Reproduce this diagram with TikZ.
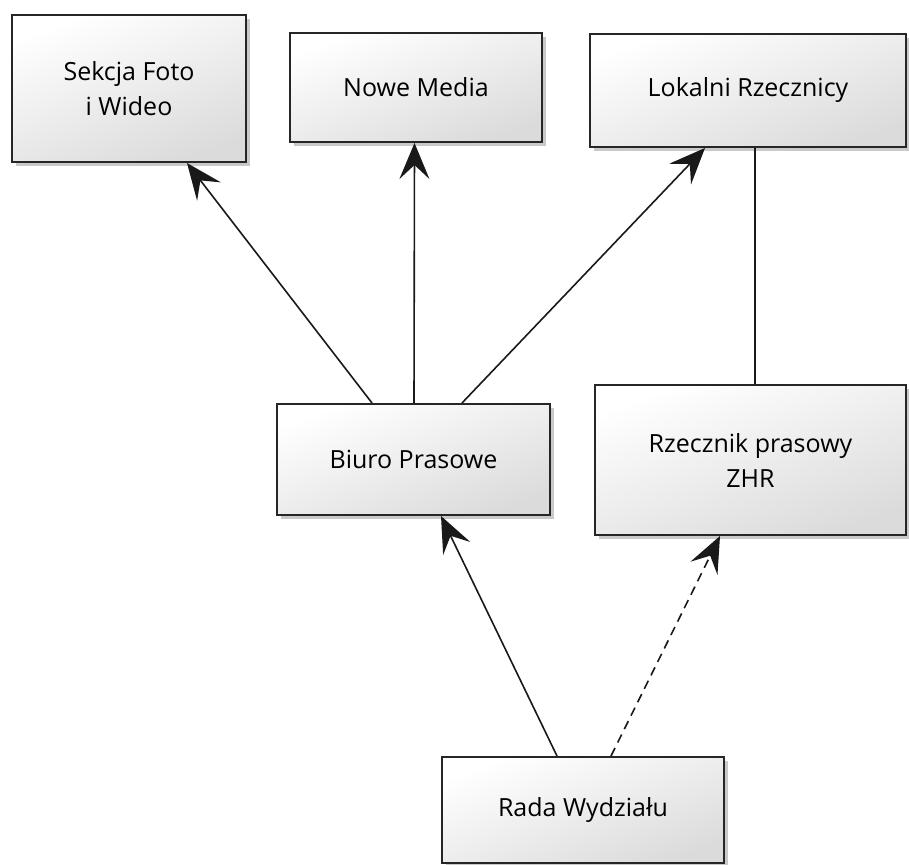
\documentclass[tikz,border=0pt]{standalone}
\usepackage{fontspec}
\setmainfont{Open Sans}
\usetikzlibrary{shadows,arrows.meta}
\tikzset{
  box/.style={draw=black!85, line width=2pt, shading=axis, top color=white, bottom color=black!14, shading angle=20,
    drop shadow={shadow xshift=4pt, shadow yshift=-4pt, opacity=0.3, fill=black!70},
    inner sep=0pt, align=center, font=\fontsize{25}{35}\selectfont},
  conn/.style={line width=1.6pt, draw=black!90, -{Stealth[length=36pt,width=30pt,inset=14pt]}},
  plain/.style={line width=1.6pt, draw=black!90}}
\begin{document}
\begin{tikzpicture}[x=1pt,y=-1pt]
\useasboundingbox (0,0) rectangle (909,864);
\begin{scope}
\clip (0,0) rectangle (909,864);
\node[box, minimum width=234pt, minimum height=147pt] (sek) at (129,88.5) {Sekcja Foto\\i Wideo};
\node[box, minimum width=252pt, minimum height=109pt] (nowe) at (416,87.5) {Nowe Media};
\node[box, minimum width=316pt, minimum height=113pt] (lok) at (748,90.5) {Lokalni Rzecznicy};
\node[box, minimum width=273pt, minimum height=111pt] (biuro) at (413.5,459.5) {Biuro Prasowe};
\node[box, minimum width=311pt, minimum height=150pt] (rzecz) at (750.5,460) {Rzecznik prasowy\\ZHR};
\node[box, minimum width=282pt, minimum height=106pt] (rada) at (583,810) {Rada Wydzia\l{}u};
\draw[conn] ([xshift=-41.5pt]biuro.north) -- ([xshift=58pt]sek.south);
\draw[conn] ([xshift=0.5pt]biuro.north) -- ([xshift=-1.5pt]nowe.south);
\draw[conn] ([xshift=48.5pt]biuro.north) -- ([xshift=-43pt]lok.south);
\draw[plain] ([xshift=7pt]lok.south) -- ([xshift=4.5pt]rzecz.north);
\draw[conn] ([xshift=-26pt]rada.north) -- ([xshift=27.5pt]biuro.south);
\draw[conn, dash pattern=on 9pt off 6pt] ([xshift=28pt]rada.north) -- ([xshift=-30.5pt]rzecz.south);
\end{scope}
\end{tikzpicture}
\end{document}
